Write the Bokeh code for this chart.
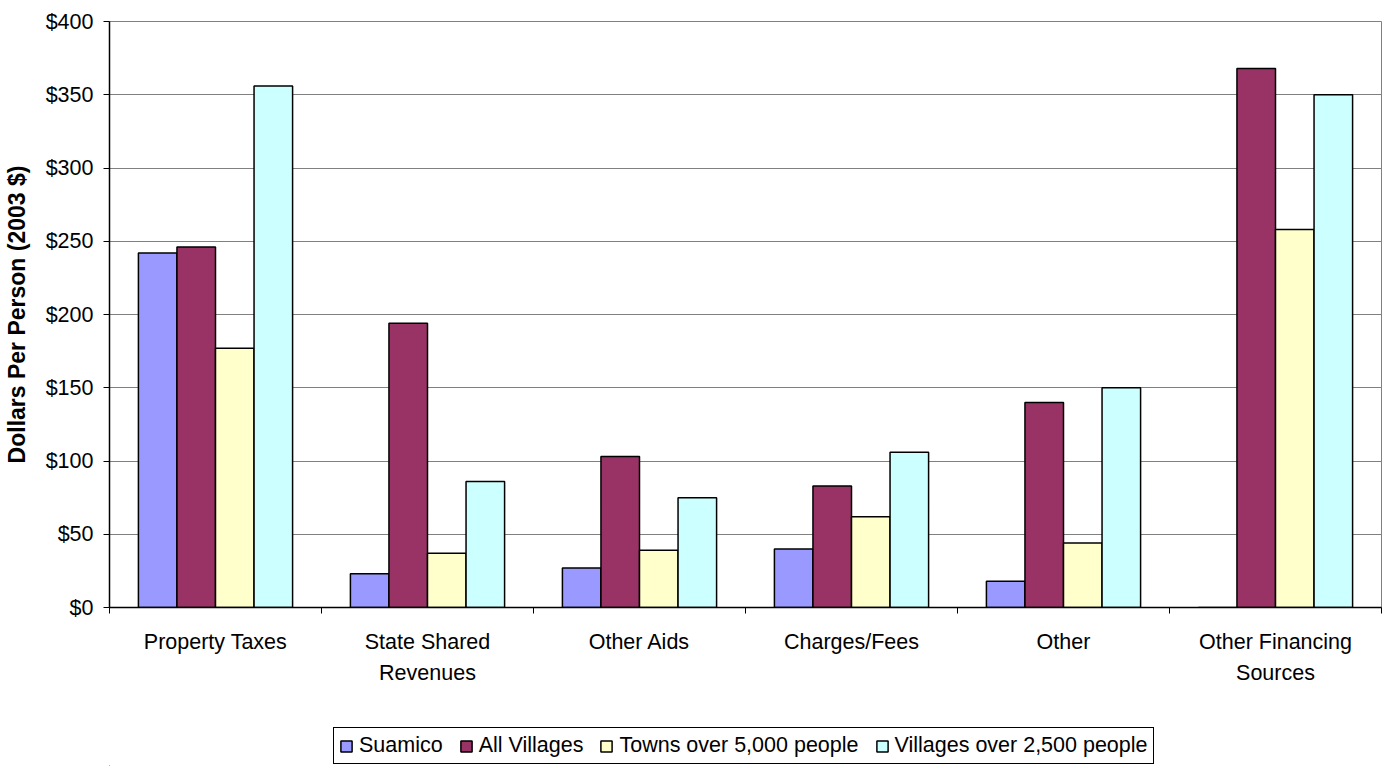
import numpy as np
from bokeh.plotting import figure
from bokeh.layouts import column
from bokeh.models import (ColumnDataSource, FixedTicker, NumeralTickFormatter,
                          Legend, LegendItem)
from bokeh.transform import dodge
from bokeh.embed import file_html
from bokeh.resources import INLINE

# Revenue sources per person (2003 dollars)
categories = ["Property Taxes", "State Shared\nRevenues", "Other Aids",
              "Charges/Fees", "Other", "Other Financing\nSources"]
series_names = ["Suamico", "All Villages", "Towns over 5,000 people",
                "Villages over 2,500 people"]
suamico = [242, 23, 27, 40, 18, 0]
all_villages = [246, 194, 103, 83, 140, 368]
towns_5000 = [177, 37, 39, 62, 44, 258]
villages_2500 = [356, 86, 75, 106, 150, 350]
y_ticks = [0, 50, 100, 150, 200, 250, 300, 350, 400]

colors = ["#9999FF", "#993366", "#FFFFCC", "#CCFFFF"]
FONT = "Liberation Sans"

centers = np.arange(len(categories)) + 0.5
bar_w = 1 / 5.5
offsets = [-1.5 * bar_w, -0.5 * bar_w, 0.5 * bar_w, 1.5 * bar_w]
series_values = [suamico, all_villages, towns_5000, villages_2500]

p = figure(width=1382, height=700, output_backend="svg", toolbar_location=None,
           x_range=(0, len(categories)), y_range=(0, 400),
           min_border_left=109, min_border_right=1, min_border_top=21,
           min_border_bottom=93, background_fill_color="white",
           border_fill_color="white")

for vals, col, off in zip(series_values, colors, offsets):
    src = ColumnDataSource(dict(x=centers, top=vals))
    p.vbar(x=dodge("x", off), top="top", bottom=0, width=bar_w, source=src,
           fill_color=col, line_color="black", line_width=1.5)

# frame styling
p.outline_line_color = "#808080"
p.outline_line_width = 1
p.xgrid.visible = False
p.ygrid.grid_line_color = "#808080"
p.ygrid.grid_line_width = 1

# y axis
p.yaxis.ticker = FixedTicker(ticks=y_ticks)
p.yaxis.formatter = NumeralTickFormatter(format="$0")
p.yaxis.axis_line_color = "black"
p.yaxis.axis_line_width = 1.5
p.yaxis.major_tick_line_color = "black"
p.yaxis.major_tick_out = 6
p.yaxis.major_tick_in = 0
p.yaxis.minor_tick_line_color = None
p.yaxis.major_label_standoff = 10
p.yaxis.major_label_text_font = FONT
p.yaxis.major_label_text_font_size = "21.5px"
p.yaxis.major_label_text_color = "black"
p.yaxis.axis_label = "Dollars Per Person (2003 $)"
p.yaxis.axis_label_text_font = FONT
p.yaxis.axis_label_text_font_style = "bold"
p.yaxis.axis_label_text_font_size = "23px"
p.yaxis.axis_label_text_color = "black"
p.yaxis.axis_label_standoff = 13

# x axis: labels at category centres, tick marks on category boundaries
p.xaxis.ticker = FixedTicker(ticks=list(centers),
                             minor_ticks=list(range(len(categories) + 1)))
p.xaxis.major_label_overrides = {float(c): lab for c, lab in zip(centers, categories)}
p.xaxis.axis_line_color = "black"
p.xaxis.axis_line_width = 1.5
p.xaxis.major_tick_line_color = None
p.xaxis.major_tick_out = 0
p.xaxis.major_tick_in = 0
p.xaxis.minor_tick_line_color = "black"
p.xaxis.minor_tick_out = 6
p.xaxis.minor_tick_in = 0
p.xaxis.major_label_standoff = 16
p.xaxis.major_label_text_font = FONT
p.xaxis.major_label_text_font_size = "21.5px"
p.xaxis.major_label_text_color = "black"
p.xaxis.major_label_text_line_height = 1.33

# legend strip underneath the chart
lg = figure(width=1382, height=66, output_backend="svg", toolbar_location=None,
            x_range=(0, 1), y_range=(0, 1), x_axis_location=None,
            y_axis_location=None, min_border_left=109, min_border_right=1,
            min_border_top=0, min_border_bottom=0,
            background_fill_color="white", border_fill_color="white")
lg.outline_line_color = None
lg.grid.visible = False

items = []
for name, col in zip(series_names, colors):
    # key swatch renderer: a zero-height bar kept outside the strip's view
    r = lg.vbar(x=[-5], top=[-5], bottom=[-5], width=0.1, fill_color=col,
                line_color="black", line_width=1.5)
    items.append(LegendItem(label=name, renderers=[r]))

legend = Legend(items=items, orientation="horizontal", location=(224, 2),
                border_line_color="black", border_line_width=1,
                border_line_alpha=1,
                background_fill_color="white", background_fill_alpha=1,
                label_text_font=FONT, label_text_font_size="21.5px",
                label_text_color="black", glyph_width=14, glyph_height=14,
                label_standoff=6, spacing=16, padding=5, margin=0,
                label_height=20)
lg.add_layout(legend, "center")

layout = column(p, lg, spacing=0)
open("out.html", "w").write(file_html(layout, INLINE))
